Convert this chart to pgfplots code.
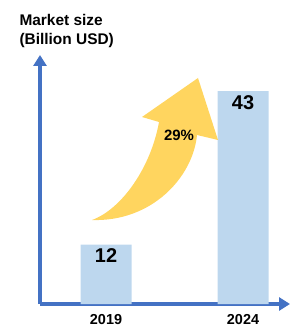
\documentclass[border=0pt]{standalone}
\usepackage{pgfplots}
\pgfplotsset{compat=1.18}
\usepackage{fontspec}
\setmainfont{Liberation Sans}
\usetikzlibrary{arrows.meta}
\definecolor{axblue}{RGB}{68,114,196}
\definecolor{barblue}{RGB}{189,215,238}
\definecolor{arrowyel}{RGB}{255,213,95}
\begin{document}
\begin{tikzpicture}[x=1bp,y=1bp]
\path[use as bounding box] (0,0) rectangle (299,327);
\begin{axis}[
  at={(40bp,23bp)}, anchor=south west,
  scale only axis, width=250bp, height=249bp,
  xmin=-0.482, xmax=1.343, ymin=0, ymax=50.3,
  axis lines=left,
  axis line style={axblue, line width=3.6bp, -{Triangle[width=13bp,length=11bp]}},
  ytick=\empty,
  xtick={0,1}, xticklabels={2019,2024},
  major tick length=0pt,
  /pgf/number format/assume math mode=true,
  xticklabel style={font=\fontsize{14.5}{16}\selectfont\bfseries, anchor=base, yshift=-20bp},
  clip=false,
]
\addplot[ybar, bar width=51bp, fill=barblue, draw=none,
  nodes near coords,
  every node near coord/.style={anchor=base, yshift=-18bp, font=\fontsize{20}{22}\selectfont\bfseries, text=black}]
  coordinates {(0,12) (1,43)};
\end{axis}
\fill[arrowyel] (92,107) .. controls (122,118) and (151,160) .. (159,205) -- (142,210) -- (198,249) -- (218,187) -- (197,192) .. controls (193,150) and (152,105) .. (92,107) -- cycle;
\node[anchor=center, font=\fontsize{15}{17}\selectfont\bfseries] at (179,192) {29\%};
\node[anchor=base west, font=\fontsize{15.5}{18}\selectfont\bfseries] at (16,302) {Market size};
\node[anchor=base west, font=\fontsize{15.5}{18}\selectfont\bfseries] at (16,283) {(Billion USD)};
\end{tikzpicture}
\end{document}
